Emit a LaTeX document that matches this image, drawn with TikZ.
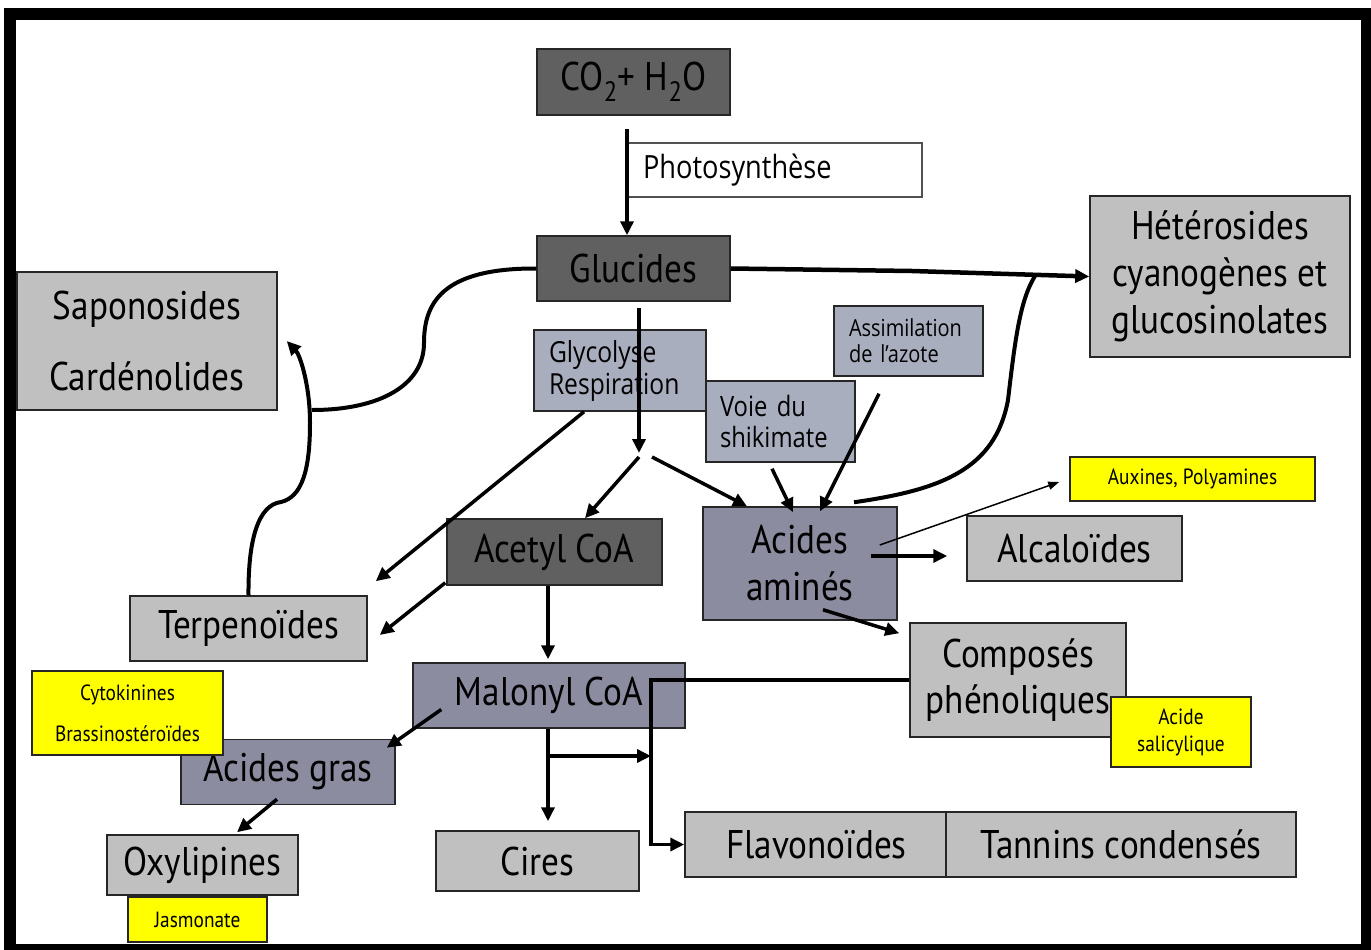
\documentclass[tikz,border=0pt]{standalone}
\usepackage{fontspec}
\usetikzlibrary{arrows.meta}
\newfontfamily\cf[FakeStretch=0.88]{PT Sans}
\newfontfamily\lf[FakeStretch=0.85]{Open Sans}
\definecolor{dk}{HTML}{606060}
\definecolor{lg}{HTML}{C0C0C0}
\definecolor{bl}{HTML}{A9AEBF}
\definecolor{pu}{HTML}{8C8CA0}
\definecolor{ye}{HTML}{FFFF00}
\definecolor{bd}{HTML}{262626}
\tikzset{
  box/.style={draw=bd, line width=1.5pt, inner sep=0pt, align=center, font=\cf\fontsize{40}{47}\selectfont},
  dkbox/.style={box, fill=dk},
  lgbox/.style={box, fill=lg},
  pubox/.style={box, fill=pu},
  blbox/.style={box, fill=bl, align=left, inner xsep=15pt},
  ylbox/.style={box, fill=ye, font=\cf\fontsize{22}{27}\selectfont},
  arr/.style={line width=3.5pt, -{Triangle[length=14pt,width=13pt]}},
  curve/.style={line width=4pt},
}
\begin{document}
\begin{tikzpicture}[x=1pt,y=-1pt]
\useasboundingbox (0,0) rectangle (1371,950);
\fill[white] (0,0) rectangle (1371,950);
\fill[black] (4,8) rectangle (1371,950);
\fill[white] (16,20) rectangle (1361,944);

% boxes
\node[dkbox, minimum width=193pt, minimum height=66pt] (co2) at (633.5,82) {CO\textsubscript{2}+ H\textsubscript{2}O};
\node[box, fill=white, draw=bd!80, line width=1.2pt, align=left, inner xsep=16pt, text width=263pt, minimum height=54pt, font=\lf\fontsize{32}{36}\selectfont] (photo) at (774.5,170) {Photosynthèse};
\node[dkbox, minimum width=193pt, minimum height=65pt] (glu) at (633.5,268.5) {Glucides};
\node[blbox, text width=142pt, minimum height=81pt, font=\lf\fontsize{29}{32}\selectfont] (glyco) at (620,370.5) {Glycolyse\\Respiration};
\node[lgbox, minimum width=260pt, minimum height=138pt, font=\cf\fontsize{40}{71}\selectfont] (sapo) at (147,341) {Saponosides\\Cardénolides};
\node[lgbox, minimum width=260pt, minimum height=161pt] (het) at (1220,276.5) {Hétérosides\\cyanogènes et\\glucosinolates};
\node[blbox, text width=119pt, minimum height=70pt, font=\lf\fontsize{23.5}{26}\selectfont] (assim) at (908.5,341) {Assimilation\\de l’azote};
\node[blbox, text width=121pt, minimum height=81pt, inner xsep=14pt, font=\lf\fontsize{28}{31}\selectfont] (voie) at (780.5,421.5) {Voie du\\shikimate};
\node[pubox, minimum width=194pt, minimum height=113pt] (aa) at (800,563.5) {Acides\\aminés};
\node[dkbox, minimum width=215pt, minimum height=66pt] (acetyl) at (554.5,552) {Acetyl CoA};
\node[lgbox, minimum width=237pt, minimum height=65pt] (terp) at (248.5,628.5) {Terpenoïdes};
\node[ylbox, minimum width=245pt, minimum height=44pt] (auxin) at (1192.5,479) {Auxines, Polyamines};
\node[lgbox, minimum width=215pt, minimum height=65pt] (alca) at (1074.5,548.5) {Alcaloïdes};
\node[lgbox, minimum width=216pt, minimum height=114pt, font=\cf\fontsize{40}{46}\selectfont] (comp) at (1018,680) {Composés\\phénoliques};
\node[ylbox, minimum width=140pt, minimum height=70pt] (salic) at (1181,732) {Acide\\salicylique};
\node[pubox, minimum width=272pt, minimum height=65pt] (malonyl) at (549,695.5) {Malonyl CoA};
\node[pubox, minimum width=214pt, minimum height=65pt] (agras) at (288,772) {Acides gras};
\node[ylbox, minimum width=191pt, minimum height=84pt, font=\cf\fontsize{22}{41}\selectfont] (cyto) at (127.5,713) {Cytokinines\\Brassinostéroïdes};
\node[lgbox, minimum width=191pt, minimum height=60pt] (oxy) at (202.5,865) {Oxylipines};
\node[ylbox, minimum width=139pt, minimum height=45pt] (jasm) at (197.5,919.5) {Jasmonate};
\node[lgbox, minimum width=203pt, minimum height=60pt] (cires) at (537.5,861) {Cires};
\node[lgbox, minimum width=263pt, minimum height=65pt] (flav) at (816.5,844.5) {Flavonoïdes};
\node[lgbox, minimum width=350pt, minimum height=65pt] (tannins) at (1121,844.5) {Tannins condensés};

% junction points
\coordinate (j) at (639,453);
\coordinate (m) at (651,756);
\coordinate (k) at (312,410);

% connectors
\draw[arr] ([xshift=-6.5pt,yshift=-13pt]co2.south) -- ([xshift=-6.5pt]glu.north);
\draw[arr] ([xshift=5.5pt,yshift=-6pt]glu.south) -- (j);
\draw[arr] ([yshift=-4pt]j) -- ([xshift=30.5pt]acetyl.north);
\draw[arr] ([xshift=13pt,yshift=-4pt]j) -- ([xshift=-53pt]aa.north);
\draw[arr] ([xshift=-36pt]glyco.south) -- ([xshift=8pt,yshift=14pt]terp.north east);
\draw[arr] ([xshift=-1pt,yshift=3pt]acetyl.south west) -- ([xshift=12pt,yshift=-6.5pt]terp.east);
\draw[arr] ([xshift=-6.5pt]acetyl.south) -- ([xshift=-1pt,yshift=3pt]malonyl.north);
\draw[arr] ([xshift=-1pt]malonyl.south) -- ([xshift=10.5pt,yshift=9pt]cires.north);
\draw[arr] (cires.north |- m) ++(10.5pt,0) -- (m);
\draw[arr, line join=miter] (comp.west) -- (comp.west -| m) -- (flav.west -| m) -- (flav.west);
\draw[arr] ([xshift=29pt,yshift=-14pt]malonyl.west) -- ([xshift=-9pt,yshift=-9pt]agras.north east);
\draw[arr] ([xshift=-11pt,yshift=6pt]agras.south) -- ([xshift=34.5pt,yshift=2pt]oxy.north);
\draw[arr] ([xshift=-29.5pt,yshift=-17pt]assim.south) -- ([xshift=20pt,yshift=-5pt]aa.north);
\draw[arr] ([xshift=-8.5pt,yshift=-6pt]voie.south) -- ([xshift=-7pt,yshift=-6pt]aa.north);
\draw[arr] ([xshift=-27pt,yshift=7.5pt]aa.east) -- ([xshift=-19pt,yshift=-7.5pt]alca.west);
\draw[line width=1.5pt, -{Triangle[length=11pt,width=8pt]}] ([xshift=-18pt,yshift=18.5pt]aa.east) -- ([xshift=-10pt,yshift=-3pt]auxin.west);
\draw[arr] ([xshift=23pt,yshift=11pt]aa.south) -- ([xshift=-10pt,yshift=-11pt]comp.north west);

% curves
\draw[line width=4.5pt, -{Triangle[length=14pt,width=13pt]}] (glu.east) -- (912,271) -- (het.west);
\draw[curve] ([xshift=54pt,yshift=4pt]aa.north) .. controls (940,490) and (995,470) .. (1008,400) .. controls (1015,340) and (1020,300) .. (1035,276);
\draw[curve] (glu.west) .. controls (440,268) and (424,305) .. (424,343) .. controls (424,385) and (380,410) .. (k);
\draw[curve, -{Triangle[length=14pt,width=13pt]}] (terp.north) .. controls (248,540) and (258,505) .. (281,502) .. controls (302,497) and (310,470) .. (310,423) .. controls (310,385) and (300,355) .. ([xshift=9pt]sapo.east);
\end{tikzpicture}
\end{document}
